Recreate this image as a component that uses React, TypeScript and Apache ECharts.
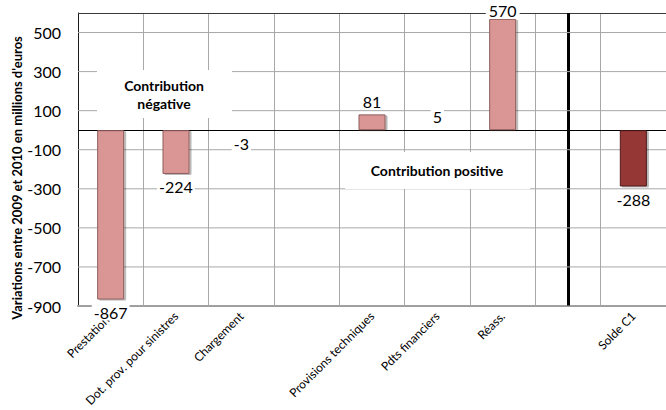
import React, { useEffect, useRef } from "react";
import * as echarts from "echarts";

// Contributions à la variation du solde, 2009 → 2010 (millions d'euros)
const categories = [
  "Prestations",
  "Dot. prov. pour sinistres",
  "Chargement",
  "",
  "Provisions techniques",
  "Pdts financiers",
  "Réass.",
  " ",
  "Solde C1",
];
const values: (number | null)[] = [-867, -224, -3, null, 81, 5, 570, null, -288];
const totalIndex = 8;
const separatorIndex = 7;
const yTicks = [-900, -700, -500, -300, -100, 100, 300, 500];
const yMin = -900;
const yMax = 600;
const yTitle = "Variations entre 2009 et 2010 en millions d'euros";
const noteNegative = "Contribution\nnégative";
const notePositive = "Contribution positive";

const FONT = "Lato, 'Open Sans', sans-serif";

export default function App() {
  const ref = useRef<HTMLDivElement>(null);

  useEffect(() => {
    if (!ref.current) return;
    const chart = echarts.init(ref.current, undefined, { renderer: "svg" });

    const barData = values.map((v, i) => {
      if (v === null) return null;
      const total = i === totalIndex;
      const nearTop = v > 500;
      return {
        value: v,
        itemStyle: {
          color: total ? "#953735" : "#D99694",
          borderColor: total ? "#4d1a19" : "#8f5e5d",
          borderWidth: 1,
          shadowColor: "rgba(0,0,0,0.28)",
          shadowOffsetX: 2,
          shadowOffsetY: 1,
          shadowBlur: 0,
        },
        label: nearTop
          ? { position: "top", distance: 0, padding: [0, 3], lineHeight: 16 }
          : { position: v < 0 ? "bottom" : "top" },
      };
    });

    // grid: one line per y tick, one per boundary between categories
    const gridColor = "#a8a8a8";
    const gridStyle = { color: gridColor, width: 1, type: "solid" };
    const boundaries = categories.slice(1).map((_, i) => i + 1);
    const vLines = boundaries.map((b) => ({ xAxis: b }));
    const span = categories.length;

    // horizontal grid lines as flat line series across the helper x axis
    const hLineSeries = yTicks.map((v) => ({
      type: "line",
      xAxisIndex: 1,
      yAxisIndex: 0,
      data: [
        [0, v],
        [span, v],
      ],
      symbol: "none",
      silent: true,
      z: 1,
      lineStyle: { color: gridColor, width: 1, type: "solid" },
    }));

    chart.setOption({
      animation: false,
      backgroundColor: "#ffffff",
      textStyle: { fontFamily: FONT },
      grid: {
        left: 78,
        top: 13,
        width: 591,
        height: 293,
        show: false,
      },
      xAxis: [
        {
          type: "category",
          data: categories,
          boundaryGap: true,
          axisLine: { onZero: false, lineStyle: { color: "#9a9a9a", width: 2 } },
          axisTick: { show: false },
          axisLabel: {
            interval: 0,
            rotate: 45,
            margin: 8,
            fontSize: 12,
            color: "#000",
            fontFamily: FONT,
          },
          splitLine: { show: false },
        },
        {
          type: "value",
          min: 0,
          max: span,
          show: false,
        },
      ],
      yAxis: {
        type: "value",
        min: yMin,
        max: yMax,
        axisLine: { show: true, lineStyle: { color: "#1a1a1a", width: 1 } },
        axisTick: { show: false, customValues: yTicks },
        axisLabel: {
          customValues: yTicks,
          fontSize: 16,
          margin: 17,
          color: "#000",
          fontFamily: FONT,
        },
        splitLine: { show: false },
      },
      series: [
        ...hLineSeries,
        {
          // carrier for the vertical grid lines, drawn on the helper x axis
          type: "line",
          xAxisIndex: 1,
          yAxisIndex: 0,
          data: boundaries.map((b) => [b, yMin]),
          symbol: "none",
          lineStyle: { opacity: 0 },
          silent: true,
          z: 1,
          markLine: {
            silent: true,
            z: 1,
            symbol: "none",
            label: { show: false },
            lineStyle: gridStyle,
            data: vLines,
          },
        },
        {
          type: "bar",
          data: barData,
          barWidth: 27,
          z: 3,
          label: {
            show: true,
            distance: 5,
            fontSize: 16,
            color: "#000",
            fontFamily: FONT,
            backgroundColor: "#ffffff",
            padding: [0, 2],
          },
          markLine: {
            silent: true,
            z: 1,
            symbol: "none",
            label: { show: false },
            data: [
              { yAxis: 0, lineStyle: { color: "#000", width: 1, type: "solid" } },
              { yAxis: yMax, lineStyle: { color: "#3a3a3a", width: 1, type: "solid" } },
              { xAxis: separatorIndex, lineStyle: { color: "#000", width: 3, type: "solid" } },
            ],
          },
        },
      ],
      graphic: [
        {
          type: "text",
          x: 17,
          y: 178,
          rotation: Math.PI / 2,
          z: 10,
          style: {
            text: yTitle,
            fontFamily: FONT,
            fontWeight: "bold",
            fontSize: 13,
            fill: "#000",
            align: "center",
            verticalAlign: "middle",
          },
        },
        {
          type: "rect",
          z: 5,
          shape: { x: 97, y: 70, width: 135, height: 48 },
          style: { fill: "#ffffff" },
        },
        {
          type: "text",
          x: 164,
          y: 94,
          z: 6,
          style: {
            text: noteNegative,
            fontFamily: FONT,
            fontWeight: "bold",
            fontSize: 14,
            lineHeight: 18,
            fill: "#000",
            align: "center",
            verticalAlign: "middle",
          },
        },
        {
          type: "rect",
          z: 5,
          shape: { x: 345, y: 152, width: 185, height: 37 },
          style: { fill: "#ffffff" },
        },
        {
          type: "text",
          x: 437,
          y: 170,
          z: 6,
          style: {
            text: notePositive,
            fontFamily: FONT,
            fontWeight: "bold",
            fontSize: 14,
            fill: "#000",
            align: "center",
            verticalAlign: "middle",
          },
        },
      ],
    });

    return () => chart.dispose();
  }, []);

  return (
    <div
      ref={ref}
      style={{ position: "absolute", left: 0, top: 0, width: 666, height: 410 }}
    />
  );
}
